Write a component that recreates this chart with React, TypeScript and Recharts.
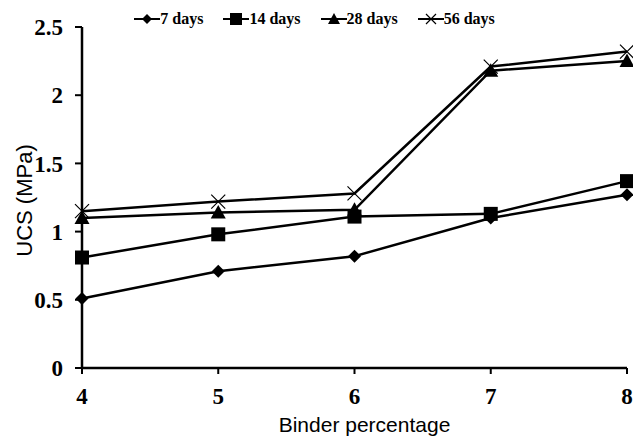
import { LineChart, Line, XAxis, YAxis } from "recharts";

const binder = [4, 5, 6, 7, 8];
const days7 = [0.51, 0.71, 0.82, 1.1, 1.27];
const days14 = [0.81, 0.98, 1.11, 1.13, 1.37];
const days28 = [1.1, 1.14, 1.16, 2.18, 2.25];
const days56 = [1.15, 1.22, 1.28, 2.21, 2.32];
const yTicks = [0, 0.5, 1, 1.5, 2, 2.5];

const data = binder.map((b, i) => ({
  binder: b,
  d7: days7[i],
  d14: days14[i],
  d28: days28[i],
  d56: days56[i],
}));

const serif = "'Liberation Serif', 'Times New Roman', serif";
const sans = "'Liberation Sans', Arial, sans-serif";

type Shape = "diamond" | "square" | "triangle" | "cross";

function marker(shape: Shape, cx: number, cy: number, key?: string) {
  if (shape === "diamond") {
    const r = 6.5;
    return (
      <path key={key} d={`M${cx},${cy - r}L${cx + r},${cy}L${cx},${cy + r}L${cx - r},${cy}Z`} fill="#000" />
    );
  }
  if (shape === "square") {
    const r = 7;
    return <rect key={key} x={cx - r} y={cy - r} width={2 * r} height={2 * r} fill="#000" />;
  }
  if (shape === "triangle") {
    const r = 7.5;
    return (
      <path key={key} d={`M${cx},${cy - r}L${cx + r},${cy + r * 0.8}L${cx - r},${cy + r * 0.8}Z`} fill="#000" />
    );
  }
  const r = 7;
  return (
    <path
      key={key}
      d={`M${cx - r},${cy - r}L${cx + r},${cy + r}M${cx - r},${cy + r}L${cx + r},${cy - r}`}
      stroke="#000"
      strokeWidth={1.2}
      fill="none"
    />
  );
}

const makeDot = (shape: Shape) => (props: any) => {
  const { cx, cy, index } = props;
  return marker(shape, cx, cy, `${shape}-${index}`);
};

const legendItems: { label: string; shape: Shape }[] = [
  { label: "7 days", shape: "diamond" },
  { label: "14 days", shape: "square" },
  { label: "28 days", shape: "triangle" },
  { label: "56 days", shape: "cross" },
];

function LegendBox() {
  return (
    <div
      style={{
        position: "absolute",
        top: 11,
        left: 0,
        width: 633,
        display: "flex",
        justifyContent: "center",
        gap: 20,
        marginLeft: -2,
      }}
    >
      {legendItems.map((it) => (
        <div key={it.label} style={{ display: "flex", alignItems: "center" }}>
          <svg width={26} height={16}>
            <line x1={0} y1={8} x2={26} y2={8} stroke="#000" strokeWidth={2} />
            {it.shape === "diamond" && <path d="M13,3L18,8L13,13L8,8Z" fill="#000" />}
            {it.shape === "square" && <rect x={7} y={2} width={12} height={12} fill="#000" />}
            {it.shape === "triangle" && <path d="M13,2L19,13L7,13Z" fill="#000" />}
            {it.shape === "cross" && (
              <path d="M8,3L18,13M8,13L18,3" stroke="#000" strokeWidth={1.2} fill="none" />
            )}
          </svg>
          <span style={{ fontFamily: serif, fontWeight: "bold", fontSize: 16, color: "#000", lineHeight: "16px" }}>
            {it.label}
          </span>
        </div>
      ))}
    </div>
  );
}

export default function App() {
  const tickStyle = { fontFamily: serif, fontWeight: "bold", fontSize: 23, fill: "#000" };
  return (
    <div style={{ position: "absolute", left: 0, top: 0, width: 633, height: 440, background: "#fff" }}>
      <LineChart width={633} height={440} data={data} margin={{ top: 27, right: 6, bottom: 0, left: 0 }}>
        <XAxis
          dataKey="binder"
          type="number"
          domain={[4, 8]}
          ticks={binder}
          height={72}
          axisLine={{ stroke: "#000", strokeWidth: 2.5 }}
          tickLine={{ stroke: "#000", strokeWidth: 2 }}
          tickSize={6}
          tick={tickStyle}
          tickMargin={14}
          label={{
            content: (p: any) => {
              const vb = p.viewBox;
              return (
                <text
                  x={vb.x + vb.width / 2 + 10}
                  y={432}
                  textAnchor="middle"
                  style={{ fontFamily: sans, fontSize: 21, fill: "#000" }}
                >
                  Binder percentage
                </text>
              );
            },
          }}
        />
        <YAxis
          type="number"
          domain={[0, 2.5]}
          ticks={yTicks}
          width={82}
          axisLine={{ stroke: "#000", strokeWidth: 2.5 }}
          tickLine={{ stroke: "#000", strokeWidth: 2 }}
          tickSize={7}
          tickMargin={12}
          tick={tickStyle}
          label={{
            content: (p: any) => {
              const vb = p.viewBox;
              const cx = 24;
              const cy = vb.y + vb.height / 2 + 3;
              return (
                <text
                  x={cx}
                  y={cy}
                  transform={`rotate(-90 ${cx} ${cy})`}
                  textAnchor="middle"
                  dominantBaseline="central"
                  style={{ fontFamily: sans, fontSize: 22, fill: "#000" }}
                >
                  UCS (MPa)
                </text>
              );
            },
          }}
        />
        <Line dataKey="d7" stroke="#000" strokeWidth={2.5} dot={makeDot("diamond")} isAnimationActive={false} />
        <Line dataKey="d14" stroke="#000" strokeWidth={2.5} dot={makeDot("square")} isAnimationActive={false} />
        <Line dataKey="d28" stroke="#000" strokeWidth={2.5} dot={makeDot("triangle")} isAnimationActive={false} />
        <Line dataKey="d56" stroke="#000" strokeWidth={2.5} dot={makeDot("cross")} isAnimationActive={false} />
      </LineChart>
      <LegendBox />
    </div>
  );
}
